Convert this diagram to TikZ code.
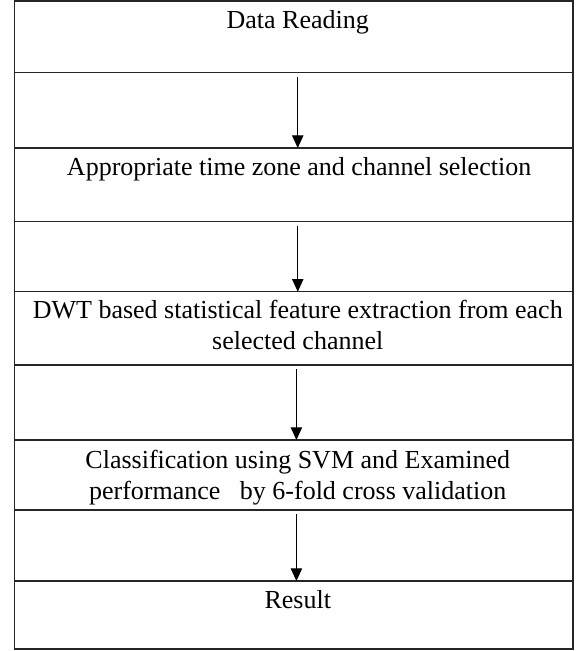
\documentclass[tikz,border=0pt]{standalone}
\usepackage{fontspec}
\setmainfont{Liberation Serif}
\usetikzlibrary{positioning,arrows.meta}
\tikzset{
  stepbox/.style={draw=black!85, line width=1pt, rectangle, anchor=north,
    minimum width=418.9pt, inner sep=0pt, outer sep=0pt},
  steptext/.style={align=center, inner sep=0pt,
    font=\fontsize{19.5}{23.25}\selectfont},
  flow/.style={line width=0.9pt, -{Triangle[length=9.5pt,width=8.5pt]}},
}
\begin{document}
\begin{tikzpicture}[x=0.75pt,y=-0.75pt]
\useasboundingbox (0,0) rectangle (579,651);
% boxes
\node[stepbox, minimum height=53.75pt] (read) at (293.75,1) {};
\node[stepbox, minimum height=55.3pt] (select) at (293.75,148) {};
\node[stepbox, minimum height=54.95pt] (dwt) at (293.75,291.7) {};
\node[stepbox, minimum height=52.5pt] (svm) at (293.75,440) {};
\node[stepbox, minimum height=51pt] (result) at (293.75,581) {};
\draw[draw=black!85, line width=1.2pt] (read.north west) rectangle (result.south east);
% texts
\node[steptext, below=6.75pt of read.north, xshift=3pt] (readtxt) {Data Reading};
\node[steptext, below=6.75pt of select.north, xshift=4pt] (selecttxt) {Appropriate time zone and channel selection};
\node[steptext, below=6.5pt of dwt.north, xshift=3pt] (dwttxt) {DWT based statistical feature extraction from each\\selected channel};
\node[steptext, below=7.5pt of svm.north, xshift=3pt] (svmtxt) {Classification using SVM and Examined\\performance \ \ by 6-fold cross validation};
\node[steptext, below=6.75pt of result.north, xshift=3pt] (resulttxt) {Result};
% arrows
\draw[flow] ([xshift=3pt,yshift=-3pt]read.south) -- ([xshift=3pt]select.north);
\draw[flow] ([xshift=3pt,yshift=-3pt]select.south) -- ([xshift=3pt]dwt.north);
\draw[flow] ([xshift=2pt,yshift=-3pt]dwt.south) -- ([xshift=2pt]svm.north);
\draw[flow] ([xshift=2pt,yshift=-3pt]svm.south) -- ([xshift=2pt]result.north);
\end{tikzpicture}
\end{document}
